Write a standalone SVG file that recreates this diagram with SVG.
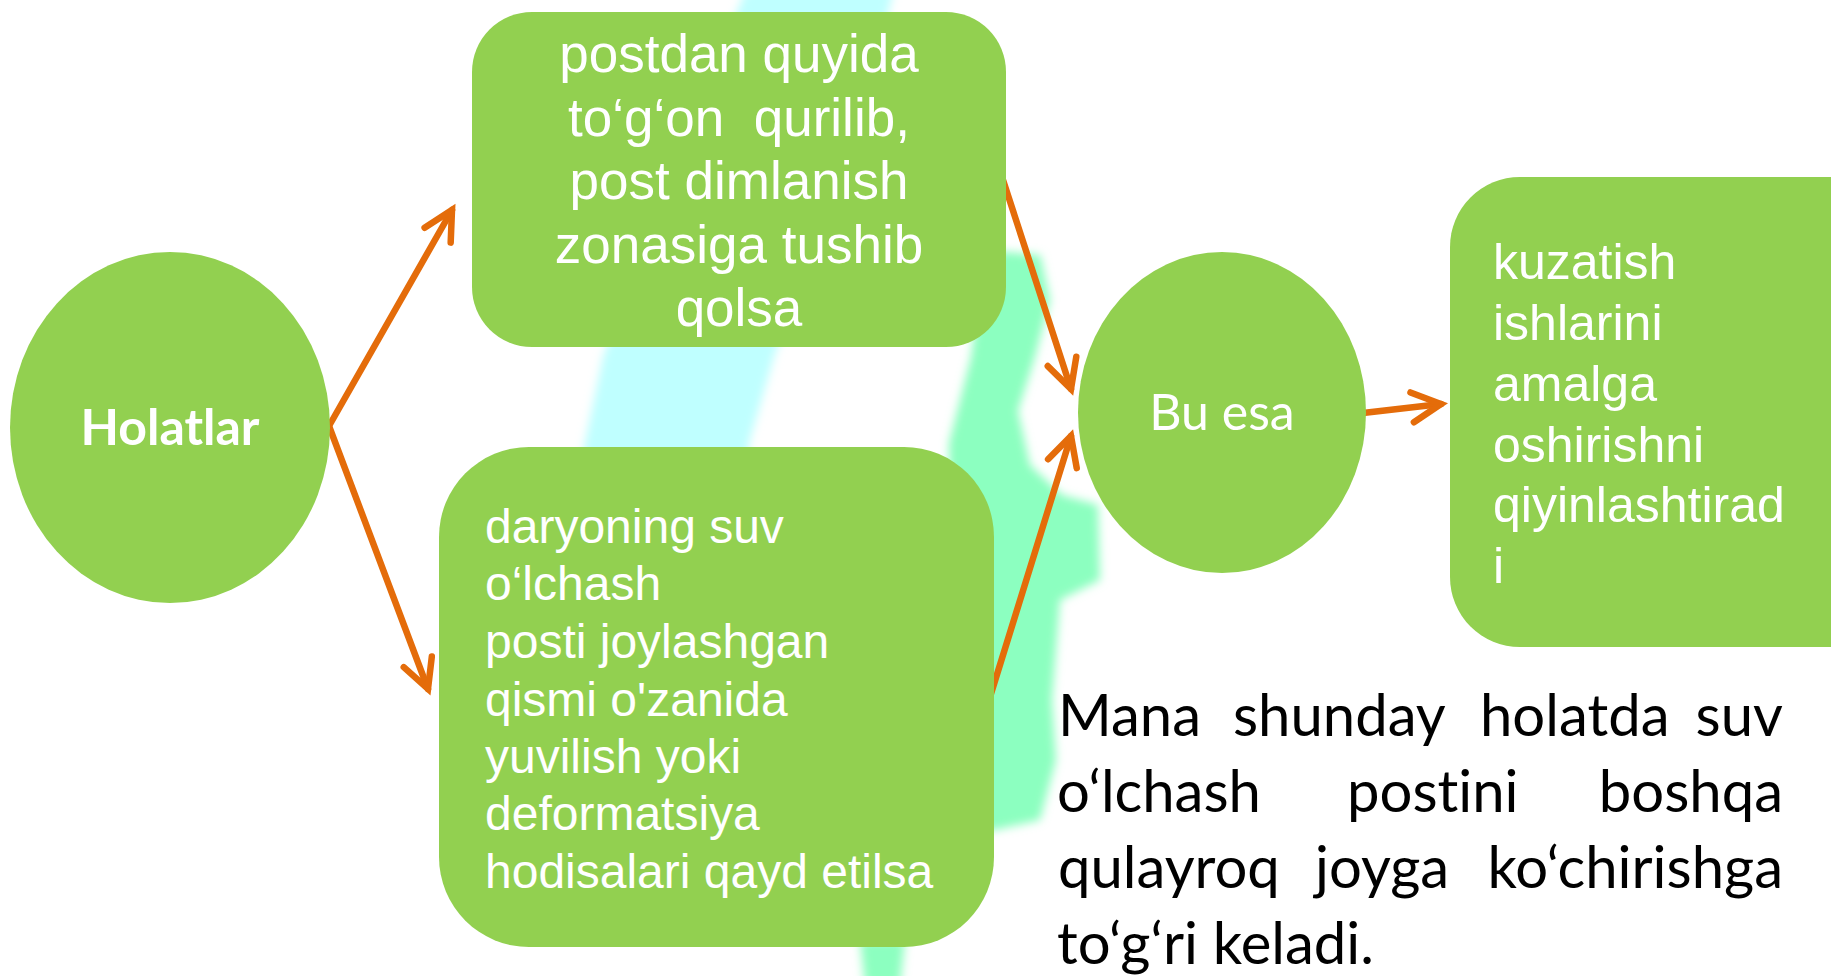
<svg xmlns="http://www.w3.org/2000/svg" width="1831" height="976" viewBox="0 0 1831 976">
<style>
.node{fill:#92D050}
.tw{fill:#FFFFFF;font-family:"Liberation Sans",Arial,sans-serif}
.tc{fill:#FFFFFF;font-family:Lato,"Open Sans",sans-serif;font-variant-ligatures:none}
.para{fill:#000000;font-family:Lato,"Open Sans",sans-serif;font-size:58px;font-variant-ligatures:none}
.conn{fill:none;stroke:#E46C0A;stroke-width:6.5;stroke-linecap:round}
</style>
<defs>
<filter id="blur" x="-20%" y="-20%" width="140%" height="140%"><feGaussianBlur stdDeviation="5"/></filter>
<marker id="ah" markerUnits="userSpaceOnUse" viewBox="-40 -20 50 40" markerWidth="50" markerHeight="40" refX="0" refY="0" orient="auto" overflow="visible">
<path d="M-29,-15 L0,0 L-29,15" fill="none" stroke="#E46C0A" stroke-width="6.5" stroke-linecap="round" stroke-linejoin="miter"/>
</marker>
</defs>
<rect width="1831" height="976" fill="#FFFFFF"/>
<g id="background" filter="url(#blur)">
<path d="M746,-10 L894,-10 L852,150 L774,357 L749,443 L730,700 L560,700 L584,447 L603,357 L680,150 Z" fill="#BFFFFF"/>
<path d="M985,250 L1040,255 L1050,300 L1035,357 L1018,411 L1030,465 L1062,495 L1098,505 L1100,580 L1060,600 L1052,700 L1056,760 L1040,820 L995,830 L950,830 L949,443 L971,357 Z" fill="#8CFFC0"/>
<path d="M860,940 L905,940 L900,985 L865,985 Z" fill="#8CFFC0"/>
</g>
<g id="connectors">
<line class="conn" x1="329" y1="426" x2="452" y2="210" marker-end="url(#ah)"/>
<line class="conn" x1="329" y1="426" x2="428" y2="689" marker-end="url(#ah)"/>
<line class="conn" x1="1003" y1="180" x2="1071" y2="389" marker-end="url(#ah)"/>
<line class="conn" x1="990" y1="697" x2="1071" y2="436" marker-end="url(#ah)"/>
<line class="conn" x1="1363" y1="413" x2="1441" y2="404" marker-end="url(#ah)"/>
</g>
<g id="holatlar">
<ellipse class="node" cx="170" cy="427.5" rx="160" ry="175.5"/>
<text class="tc" x="170" y="445" font-size="50" font-weight="bold" text-anchor="middle">Holatlar</text>
</g>
<g id="top-box">
<rect class="node" x="472" y="12" width="534" height="335" rx="60" ry="60"/>
<text class="tw" font-size="53" text-anchor="middle" xml:space="preserve"><tspan x="739" y="72">postdan quyida</tspan><tspan x="739" y="136">to‘g‘on  qurilib,</tspan><tspan x="739" y="199">post dimlanish</tspan><tspan x="739" y="263">zonasiga tushib</tspan><tspan x="739" y="326">qolsa</tspan></text>
</g>
<g id="bottom-box">
<rect class="node" x="439" y="447" width="555" height="500" rx="90" ry="90"/>
<text class="tw" font-size="48"><tspan x="485" y="543">daryoning suv</tspan><tspan x="485" y="600">o‘lchash</tspan><tspan x="485" y="658">posti joylashgan</tspan><tspan x="485" y="716">qismi o'zanida</tspan><tspan x="485" y="773">yuvilish yoki</tspan><tspan x="485" y="830">deformatsiya</tspan><tspan x="485" y="888">hodisalari qayd etilsa</tspan></text>
</g>
<g id="bu-esa">
<ellipse class="node" cx="1222" cy="412.5" rx="144" ry="160.5"/>
<text class="tc" x="1222" y="430" font-size="50" text-anchor="middle">Bu esa</text>
</g>
<g id="right-box">
<rect class="node" x="1450" y="177" width="460" height="470" rx="70" ry="70"/>
<text class="tw" font-size="50"><tspan x="1493" y="279">kuzatish</tspan><tspan x="1493" y="340">ishlarini</tspan><tspan x="1493" y="401">amalga</tspan><tspan x="1493" y="462">oshirishni</tspan><tspan x="1493" y="522">qiyinlashtirad</tspan><tspan x="1493" y="583">i</tspan></text>
</g>
<g id="paragraph">
<text class="para"><tspan x="1058" y="736">Mana</tspan><tspan x="1233" y="736">shunday</tspan><tspan x="1480" y="736">holatda</tspan><tspan x="1783" y="736" text-anchor="end">suv</tspan></text>
<text class="para"><tspan x="1057" y="812">o‘lchash</tspan><tspan x="1347" y="812">postini</tspan><tspan x="1783" y="812" text-anchor="end">boshqa</tspan></text>
<text class="para"><tspan x="1058" y="888">qulayroq</tspan><tspan x="1315" y="888">joyga</tspan><tspan x="1783" y="888" text-anchor="end">ko‘chirishga</tspan></text>
<text class="para" x="1057" y="964">to‘g‘ri keladi.</text>
</g>
</svg>
